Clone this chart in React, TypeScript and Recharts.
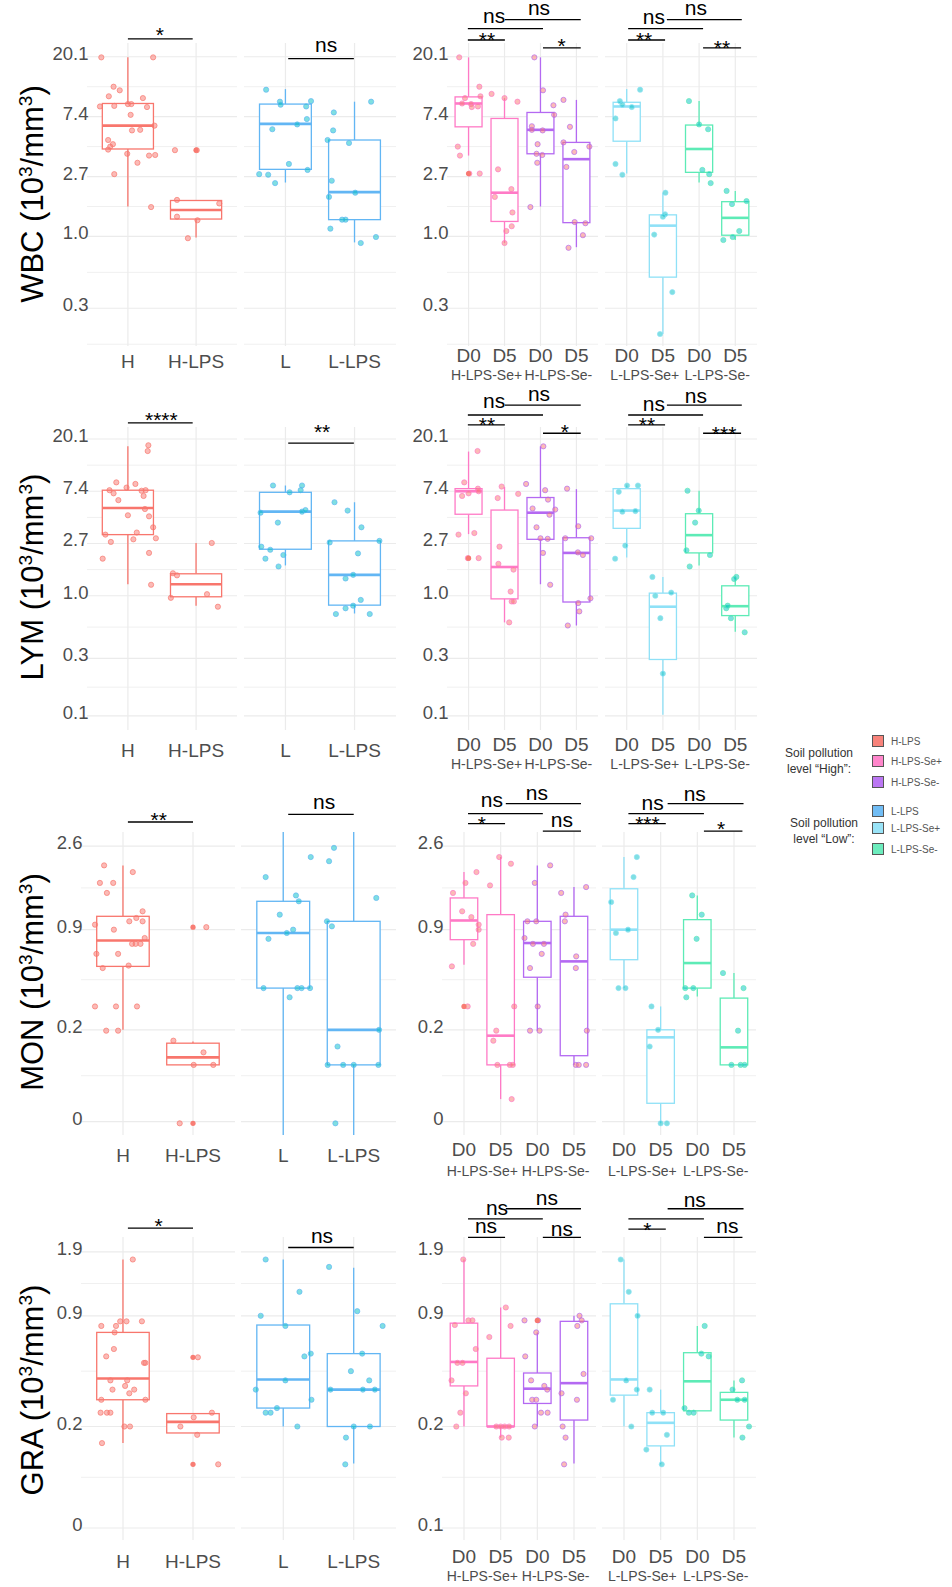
import React from "react";
import {
  ComposedChart,
  XAxis,
  YAxis,
  CartesianGrid,
  Bar,
  Scatter,
  ReferenceLine,
  ReferenceDot,
} from "recharts";

const FONT = '"Liberation Sans", Arial, Helvetica, sans-serif';
const TICK_GREY = "#4D4D4D";

const SOIL_H = "#F8766D";
const SOIL_L = "#00BFC4";
const COL_H_LPS = "#F8766D";
const COL_L_LPS = "#62B6F4";
const COL_H_SEP = "#FF7AC6";
const COL_H_SEM = "#B469F2";
const COL_L_SEP = "#8FE1F7";
const COL_L_SEM = "#5DEBB6";

const CATS_H = ["H", "H-LPS"];
const CATS_L = ["L", "L-LPS"];
const CATS_DAY = ["D0", "D5", "D0", "D5"];
const GROUPS_H = ["H-LPS-Se+", "H-LPS-Se-"];
const GROUPS_L = ["L-LPS-Se+", "L-LPS-Se-"];

// y is plotted on ln(value) for WBC / LYM and ln(value + 0.1) for MON / GRA,
// every number below is already on that scale.
// box: [lower whisker, q1, median, q3, upper whisker]
// points: [group, jitter, value]   outliers: [group, value]
// brackets: [from, to, y, label x, label y, label]

const WBC_TICKS = [-1.2, 0, 1, 2, 3];
const WBC_LABELS = ["0.3", "1.0", "2.7", "7.4", "20.1"];
const WBC_MINOR = [-1.8, -0.6, 0.5, 1.5, 2.5];
const WBC_DOMAIN = [-1.83, 3.23];

const LYM_TICKS = [-2.3, -1.2, 0, 1, 2, 3];
const LYM_LABELS = ["0.1", "0.3", "1.0", "2.7", "7.4", "20.1"];
const LYM_MINOR = [-1.75, -0.6, 0.5, 1.5, 2.5];
const LYM_DOMAIN = [-2.57, 3.23];

const MON_TICKS = [-2.3, -1.2, 0, 1];
const MON_LABELS = ["0", "0.2", "0.9", "2.6"];
const MON_MINOR = [-1.75, -0.6, 0.5];
const MON_DOMAIN = [-2.46, 1.17];

const GRA_TICKS = [-2.3, -1.2, 0, 0.693];
const GRA_LABELS = ["0", "0.2", "0.9", "1.9"];
const GRA_LABELS_SE = ["0.1", "0.2", "0.9", "1.9"];
const GRA_MINOR = [-1.75, -0.6, 0.35];
const GRA_DOMAIN = [-2.43, 0.854];

// ---------- WBC ----------
const WBC_BOX_H = [[0.5, 1.46, 1.85, 2.22, 2.99], [-0.02, 0.29, 0.44, 0.6, 0.6]];
const WBC_PTS_H = [
  [1, -0.39, 2.99], [1, 0.37, 2.99], [1, -0.21, 2.5], [1, -0.12, 2.44], [1, -0.28, 2.34], [1, 0.22, 2.31],
  [1, -0.41, 2.17], [1, -0.2, 2.18], [1, 0.0, 2.21], [1, 0.05, 2.21], [1, 0.28, 2.16], [1, 0.04, 2.03],
  [1, 0.39, 1.85], [1, 0.06, 1.77], [1, 0.18, 1.78], [1, -0.29, 1.61], [1, -0.22, 1.54], [1, -0.26, 1.5],
  [1, -0.29, 1.45], [1, -0.01, 1.38], [1, 0.31, 1.35], [1, 0.4, 1.36], [1, 0.14, 1.23], [1, -0.2, 1.04],
  [1, 0.34, 0.49],
  [2, -0.31, 1.44], [2, 0.01, 1.44], [2, -0.28, 0.61], [2, 0.34, 0.55], [2, -0.28, 0.33], [2, 0.02, 0.27],
  [2, -0.12, -0.03],
];
const WBC_OUT_H = [[2, 1.44]];
const WBC_BRK_H = [[1.0, 1.95, 3.3, 1.47, 3.25, "*"]];

const WBC_BOX_L = [[0.9, 1.12, 1.88, 2.21, 2.46], [-0.1, 0.28, 0.74, 1.61, 2.25]];
const WBC_PTS_L = [
  [1, -0.28, 2.45], [1, -0.08, 2.25], [1, -0.07, 2.2], [1, 0.37, 2.26], [1, 0.3, 2.17], [1, 0.31, 1.96],
  [1, 0.17, 1.87], [1, -0.19, 1.79], [1, 0.05, 1.21], [1, 0.32, 1.11], [1, -0.38, 1.04], [1, -0.25, 1.03],
  [1, -0.15, 0.89],
  [2, 0.24, 2.25], [2, -0.3, 2.07], [2, -0.31, 1.77], [2, -0.39, 1.61], [2, -0.08, 1.56], [2, -0.33, 0.93],
  [2, 0.01, 0.73], [2, -0.37, 0.66], [2, -0.18, 0.28], [2, -0.13, 0.28], [2, -0.35, 0.13], [2, 0.31, -0.01],
  [2, 0.09, -0.11],
];
const WBC_BRK_L = [[1.04, 1.99, 2.97, 1.59, 3.08, "ns"]];

const WBC_BOX_HSE = [
  [1.35, 1.83, 2.22, 2.33, 2.99], [-0.11, 0.25, 0.73, 1.97, 2.31],
  [0.5, 1.38, 1.78, 2.07, 2.99], [-0.18, 0.23, 1.29, 1.57, 2.28],
];
const WBC_PTS_HSE = [
  [1, -0.26, 2.99], [1, 0.3, 2.5], [1, -0.1, 2.31], [1, 0.33, 2.34], [1, -0.18, 2.22], [1, 0.07, 2.21],
  [1, 0.09, 2.16], [1, 0.26, 2.17], [1, -0.3, 1.5], [1, -0.24, 1.35], [1, 0.31, 1.05], [1, 0.02, 1.05],
  [2, -0.36, 2.38], [2, 0.0, 2.31], [2, 0.36, 2.25], [2, -0.18, 1.12], [2, -0.27, 0.66], [2, 0.19, 0.79],
  [2, 0.22, 0.4], [2, 0.2, 0.17], [2, 0.05, 0.09], [2, 0.0, -0.11],
  [3, -0.17, 2.99], [3, 0.07, 2.44], [3, 0.36, 2.19], [3, 0.38, 2.03], [3, -0.24, 1.84], [3, -0.24, 1.78],
  [3, 0.06, 1.77], [3, -0.08, 1.54], [3, -0.11, 1.38], [3, 0.05, 1.36], [3, -0.09, 1.23], [3, -0.28, 0.49],
  [4, -0.36, 2.28], [4, -0.18, 1.83], [4, -0.36, 1.57], [4, 0.36, 1.5], [4, -0.06, 1.41], [4, -0.28, 1.16],
  [4, -0.05, 0.24], [4, 0.25, 0.22], [4, 0.18, 0.02], [4, -0.22, -0.19],
];
const WBC_OUT_HSE = [[1, 1.05]];
const WBC_BRK_HSE = [
  [0.98, 3.07, 3.47, 1.71, 3.57, "ns"], [2.01, 4.12, 3.62, 2.96, 3.7, "ns"],
  [0.98, 2.01, 3.28, 1.51, 3.17, "**"], [3.07, 4.12, 3.15, 3.59, 3.07, "*"],
];

const WBC_BOX_LSE = [
  [1.05, 1.59, 2.17, 2.24, 2.46], [-1.63, -0.68, 0.18, 0.36, 0.73],
  [0.9, 1.07, 1.46, 1.86, 2.26], [-0.06, 0.02, 0.31, 0.58, 0.76],
];
const WBC_PTS_LSE = [
  [1, 0.37, 2.45], [1, -0.19, 2.26], [1, -0.12, 2.2], [1, 0.14, 2.16], [1, -0.31, 1.97], [1, -0.31, 1.21],
  [1, -0.12, 1.03],
  [2, 0.07, 0.73], [2, 0.06, 0.37], [2, 0.0, 0.33], [2, -0.24, 0.03], [2, 0.26, -0.93], [2, -0.08, -1.63],
  [3, -0.28, 2.26], [3, 0.0, 1.87], [3, 0.25, 1.79], [3, 0.09, 1.11], [3, 0.28, 1.04], [3, 0.32, 0.89],
  [4, -0.24, 0.76], [4, 0.31, 0.59], [4, -0.09, 0.54], [4, 0.11, 0.09], [4, -0.07, -0.01], [4, -0.33, -0.06],
];
const WBC_BRK_LSE = [
  [1.04, 3.11, 3.47, 1.75, 3.55, "ns"], [2.11, 4.18, 3.62, 2.91, 3.7, "ns"],
  [1.04, 2.06, 3.28, 1.48, 3.17, "**"], [3.11, 4.16, 3.15, 3.63, 3.03, "**"],
];

// ---------- LYM ----------
const LYM_BOX_H = [[0.22, 1.17, 1.68, 2.02, 2.86], [-0.19, -0.02, 0.22, 0.42, 1.01]];
const LYM_PTS_H = [
  [1, 0.3, 2.88], [1, 0.29, 2.77], [1, -0.17, 2.17], [1, 0.11, 2.14], [1, -0.02, 2.07], [1, -0.27, 2.02],
  [1, -0.21, 1.96], [1, 0.26, 2.02], [1, 0.2, 2.01], [1, 0.23, 1.91], [1, -0.14, 1.83], [1, 0.25, 1.66],
  [1, 0.31, 1.52], [1, 0.0, 1.54], [1, 0.37, 1.31], [1, -0.33, 1.17], [1, 0.13, 1.21], [1, -0.25, 1.03],
  [1, 0.08, 1.08], [1, 0.41, 1.1], [1, 0.31, 0.82], [1, -0.37, 0.71], [1, 0.34, 0.21],
  [2, 0.23, 1.01], [2, -0.34, 0.43], [2, -0.28, 0.39], [2, 0.16, 0.03], [2, -0.37, -0.04], [2, 0.32, -0.21],
];
const LYM_BRK_H = [[1.0, 1.95, 3.31, 1.49, 3.23, "****"]];

const LYM_BOX_L = [[0.58, 0.89, 1.61, 1.98, 2.11], [-0.34, -0.18, 0.4, 1.05, 1.79]];
const LYM_PTS_L = [
  [1, -0.18, 2.11], [1, 0.24, 2.11], [1, 0.06, 1.98], [1, 0.22, 2.02], [1, -0.36, 1.59], [1, 0.24, 1.61],
  [1, 0.29, 1.64], [1, -0.11, 1.4], [1, -0.35, 0.94], [1, -0.22, 0.88], [1, -0.03, 0.78], [1, -0.29, 0.71],
  [1, -0.1, 0.56],
  [2, -0.29, 1.79], [2, -0.1, 1.63], [2, 0.1, 1.31], [2, -0.36, 1.02], [2, 0.36, 1.05], [2, 0.05, 0.81],
  [2, -0.02, 0.4], [2, -0.13, 0.33], [2, 0.09, -0.08], [2, -0.13, -0.24], [2, -0.02, -0.19], [2, -0.27, -0.35],
  [2, 0.22, -0.35],
];
const LYM_BRK_L = [[1.04, 1.99, 2.92, 1.53, 3.0, "**"]];

const LYM_BOX_HSE = [
  [1.18, 1.56, 2.0, 2.05, 2.76], [-0.51, -0.06, 0.55, 1.64, 2.08],
  [0.22, 1.08, 1.59, 1.88, 2.86], [-0.57, -0.12, 0.82, 1.11, 2.04],
];
const LYM_PTS_HSE = [
  [1, 0.25, 2.77], [1, -0.12, 2.17], [1, -0.18, 1.91], [1, 0.0, 1.96], [1, 0.26, 2.05], [1, 0.28, 2.0],
  [1, -0.28, 1.17], [1, 0.16, 1.2], [1, 0.28, 0.72], [1, -0.02, 0.72],
  [2, -0.08, 2.09], [2, -0.19, 1.87], [2, 0.38, 1.95], [2, -0.14, 0.94], [2, -0.17, 0.61], [2, 0.25, 0.5],
  [2, 0.17, 0.08], [2, 0.2, -0.11], [2, 0.26, -0.11], [2, 0.13, -0.51],
  [3, 0.08, 2.86], [3, -0.4, 2.14], [3, 0.13, 2.02], [3, 0.21, 1.84], [3, -0.22, 1.67], [3, 0.41, 1.65],
  [3, 0.25, 1.55], [3, -0.11, 1.31], [3, 0.0, 1.1], [3, 0.2, 1.09], [3, 0.07, 0.82], [3, 0.27, 0.21],
  [4, -0.26, 2.05], [4, 0.05, 1.33], [4, 0.41, 1.1], [4, -0.31, 1.1], [4, 0.04, 0.83], [4, 0.18, 0.78],
  [4, 0.39, -0.05], [4, 0.05, -0.14], [4, 0.08, -0.3], [4, -0.24, -0.57],
];
const LYM_OUT_HSE = [[1, 0.72]];
const LYM_BRK_HSE = [
  [0.98, 3.07, 3.46, 1.71, 3.59, "ns"], [2.01, 4.12, 3.65, 2.96, 3.73, "ns"],
  [0.98, 2.01, 3.27, 1.51, 3.13, "**"], [3.07, 4.12, 3.11, 3.68, 3.0, "*"],
];

const LYM_BOX_LSE = [
  [0.73, 1.29, 1.63, 2.05, 2.11], [-2.28, -1.22, -0.21, 0.05, 0.36],
  [0.58, 0.82, 1.16, 1.57, 2.01], [-0.69, -0.38, -0.2, 0.19, 0.38],
];
const LYM_PTS_LSE = [
  [1, 0.01, 2.11], [1, 0.31, 2.11], [1, -0.22, 1.99], [1, -0.12, 1.61], [1, 0.24, 1.62], [1, -0.04, 0.96],
  [1, -0.32, 0.71],
  [2, -0.29, 0.36], [2, -0.21, 0.0], [2, 0.23, 0.06], [2, -0.07, -0.43], [2, 0.0, -1.49],
  [3, -0.32, 2.01], [3, -0.01, 1.63], [3, -0.11, 1.4], [3, -0.35, 0.87], [3, 0.3, 0.78], [3, -0.26, 0.56],
  [4, 0.03, 0.36], [4, -0.03, 0.32], [4, -0.25, -0.24], [4, -0.21, -0.19], [4, -0.12, -0.43], [4, 0.26, -0.7],
];
const LYM_BRK_LSE = [
  [1.04, 3.11, 3.46, 1.75, 3.54, "ns"], [2.11, 4.18, 3.65, 2.91, 3.69, "ns"],
  [1.04, 2.06, 3.27, 1.56, 3.13, "**"], [3.11, 4.16, 3.11, 3.69, 2.96, "***"],
];

// ---------- MON ----------
const MON_BOX_H = [[-1.2, -0.44, -0.13, 0.16, 0.77], [-1.62, -1.62, -1.53, -1.36, -1.34]];
const MON_PTS_H = [
  [1, -0.27, 0.77], [1, 0.14, 0.69], [1, -0.33, 0.56], [1, -0.14, 0.56], [1, -0.23, 0.44], [1, 0.28, 0.22],
  [1, 0.19, 0.14], [1, 0.09, 0.1], [1, 0.28, 0.1], [1, -0.4, 0.06], [1, -0.13, 0.0], [1, 0.31, -0.1],
  [1, 0.13, -0.17], [1, 0.18, -0.17], [1, 0.25, -0.17], [1, -0.38, -0.29], [1, -0.07, -0.29], [1, 0.08, -0.43],
  [1, -0.29, -0.46], [1, -0.4, -0.92], [1, -0.1, -0.92], [1, 0.2, -0.92], [1, -0.24, -1.21], [1, -0.07, -1.21],
  [2, -0.28, -1.33], [2, 0.15, -1.47], [2, 0.01, -1.62], [2, 0.29, -1.62], [2, -0.19, -2.32], [2, 0.19, 0.03],
];
const MON_OUT_H = [[2, 0.03], [2, -2.32]];
const MON_BRK_H = [[1.07, 2.0, 1.29, 1.51, 1.23, "**"]];

const MON_BOX_L = [[-2.46, -0.7, -0.04, 0.34, 1.17], [-2.46, -1.62, -1.2, 0.1, 1.17]];
const MON_PTS_L = [
  [1, -0.25, 0.63], [1, 0.18, 0.41], [1, 0.22, 0.34], [1, -0.05, 0.18], [1, -0.21, -0.11], [1, 0.14, 0.0],
  [1, 0.05, -0.04], [1, -0.28, -0.7], [1, 0.09, -0.81], [1, 0.2, -0.7], [1, 0.26, -0.7], [1, 0.38, -0.7],
  [1, 0.39, 0.87],
  [2, -0.28, 0.98], [2, -0.35, 0.82], [2, 0.32, 0.38], [2, -0.38, 0.1], [2, -0.31, 0.04], [2, 0.36, -1.2],
  [2, -0.23, -1.4], [2, -0.37, -1.62], [2, -0.15, -1.62], [2, 0.0, -1.62], [2, 0.35, -1.62], [2, -0.26, -2.32],
];
const MON_BRK_L = [[1.07, 2.0, 1.38, 1.58, 1.44, "ns"]];

const MON_BOX_HSE = [
  [-0.42, -0.12, 0.11, 0.38, 0.69], [-2.03, -1.62, -1.27, 0.18, 0.87],
  [-1.21, -0.57, -0.16, 0.1, 0.77], [-1.62, -1.51, -0.38, 0.16, 0.51],
];
const MON_PTS_HSE = [
  [1, 0.34, 0.69], [1, 0.04, 0.56], [1, -0.3, 0.44], [1, -0.05, 0.22], [1, 0.2, 0.15], [1, 0.4, 0.06],
  [1, 0.4, 0.0], [1, 0.25, -0.17], [1, -0.33, -0.44], [1, 0.1, -0.92],
  [2, -0.04, 0.87], [2, 0.28, 0.79], [2, -0.29, 0.53], [2, 0.37, -0.92], [2, -0.12, -1.21], [2, -0.2, -1.33],
  [2, -0.09, -1.62], [2, 0.25, -1.62], [2, 0.33, -1.62], [2, 0.3, -2.03],
  [3, 0.35, 0.77], [3, -0.07, 0.56], [3, -0.27, 0.1], [3, -0.03, 0.1], [3, -0.35, -0.1], [3, -0.12, -0.17],
  [3, 0.18, -0.17], [3, 0.12, -0.29], [3, -0.2, -0.46], [3, 0.01, -0.92], [3, -0.2, -1.21], [3, 0.06, -1.21],
  [4, 0.33, 0.51], [4, -0.35, 0.44], [4, -0.23, 0.18], [4, -0.25, 0.1], [4, 0.06, -0.32], [4, 0.05, -0.46],
  [4, 0.35, -1.21], [4, 0.05, -1.62], [4, 0.13, -1.62], [4, 0.33, -1.62],
];
const MON_OUT_HSE = [[1, -0.92]];
const MON_BRK_HSE = [
  [1.11, 3.15, 1.39, 1.76, 1.47, "ns"], [2.14, 4.19, 1.51, 2.99, 1.55, "ns"],
  [1.11, 2.12, 1.27, 1.49, 1.18, "*"], [3.15, 4.19, 1.18, 3.67, 1.23, "ns"],
];

const MON_BOX_LSE = [
  [-0.7, -0.36, 0.0, 0.49, 0.87], [-2.32, -2.08, -1.29, -1.2, -0.92],
  [-0.8, -0.7, -0.4, 0.12, 0.41], [-1.62, -1.62, -1.41, -0.82, -0.52],
];
const MON_PTS_LSE = [
  [1, 0.35, 0.87], [1, 0.26, 0.63], [1, -0.35, 0.33], [1, -0.22, -0.04], [1, 0.11, 0.0], [1, -0.15, -0.7],
  [1, 0.04, -0.7],
  [2, -0.25, -0.92], [2, -0.07, -1.2], [2, -0.3, -1.4], [2, 0.17, -2.32], [2, 0.0, -2.32],
  [3, -0.14, 0.41], [3, 0.12, 0.18], [3, -0.02, -0.11], [3, -0.33, -0.7], [3, -0.11, -0.7], [3, -0.3, -0.81],
  [4, -0.3, -0.52], [4, 0.26, -0.7], [4, 0.11, -1.21], [4, -0.07, -1.62], [4, 0.18, -1.62], [4, 0.29, -1.62],
];
const MON_BRK_LSE = [
  [1.12, 3.18, 1.39, 1.78, 1.43, "ns"], [2.19, 4.26, 1.51, 2.93, 1.54, "ns"],
  [1.12, 2.14, 1.27, 1.64, 1.18, "***"], [3.18, 4.23, 1.18, 3.65, 1.12, "*"],
];

// ---------- GRA ----------
const GRA_BOX_H = [[-1.38, -0.91, -0.68, -0.18, 0.61], [-1.27, -1.27, -1.15, -1.06, -1.06]];
const GRA_PTS_H = [
  [1, 0.14, 0.61], [1, -0.31, -0.11], [1, -0.1, -0.11], [1, -0.04, -0.06], [1, 0.05, -0.06], [1, 0.27, -0.06],
  [1, -0.12, -0.18], [1, -0.13, -0.36], [1, -0.24, -0.44], [1, 0.3, -0.51], [1, 0.32, -0.51], [1, -0.18, -0.7],
  [1, 0.06, -0.7], [1, -0.15, -0.8], [1, 0.03, -0.76], [1, 0.16, -0.8], [1, 0.09, -0.84], [1, -0.31, -0.91],
  [1, 0.32, -0.91], [1, -0.32, -1.05], [1, -0.23, -1.05], [1, -0.18, -1.05], [1, 0.02, -1.2], [1, 0.1, -1.2],
  [1, -0.3, -1.38],
  [2, 0.07, -0.45], [2, 0.27, -1.05], [2, 0.01, -1.1], [2, -0.18, -1.2], [2, 0.06, -1.29], [2, 0.36, -1.61],
];
const GRA_OUT_H = [[2, -0.45], [2, -1.61]];
const GRA_BRK_H = [[1.07, 2.0, 0.95, 1.51, 0.9, "*"]];

const GRA_BOX_L = [[-1.2, -1.0, -0.69, -0.1, 0.61], [-1.6, -1.2, -0.8, -0.41, 0.52]];
const GRA_PTS_L = [
  [1, -0.25, 0.61], [1, 0.23, 0.26], [1, -0.32, 0.0], [1, 0.03, -0.11], [1, 0.3, -0.44], [1, 0.39, -0.41],
  [1, 0.03, -0.7], [1, -0.39, -0.8], [1, 0.4, -0.91], [1, -0.09, -1.0], [1, -0.25, -1.05], [1, -0.18, -1.05],
  [1, 0.2, -1.2],
  [2, -0.35, 0.53], [2, 0.05, 0.05], [2, 0.41, -0.11], [2, 0.12, -0.41], [2, -0.04, -0.6], [2, 0.22, -0.7],
  [2, -0.33, -0.8], [2, 0.13, -0.8], [2, 0.3, -0.8], [2, 0.0, -1.2], [2, 0.23, -1.2], [2, -0.11, -1.32],
  [2, -0.12, -1.61],
];
const GRA_BRK_L = [[1.07, 2.0, 0.74, 1.55, 0.79, "ns"]];

const GRA_BOX_HSE = [
  [-1.2, -0.76, -0.5, -0.08, 0.61], [-1.32, -1.2, -1.2, -0.46, 0.09],
  [-1.2, -0.95, -0.79, -0.62, -0.18], [-1.6, -1.13, -0.73, -0.06, 0.0],
];
const GRA_PTS_HSE = [
  [1, -0.02, 0.61], [1, -0.25, -0.1], [1, 0.12, -0.05], [1, 0.23, -0.05], [1, 0.32, -0.36], [1, -0.18, -0.51],
  [1, -0.04, -0.51], [1, -0.34, -0.7], [1, 0.05, -0.84], [1, -0.1, -1.05], [1, -0.21, -1.2],
  [2, 0.14, 0.09], [2, 0.27, -0.11], [2, -0.31, -0.23], [2, -0.12, -1.2], [2, 0.0, -1.2], [2, 0.11, -1.2],
  [2, 0.23, -1.2], [2, 0.03, -1.32], [2, 0.22, -1.32],
  [3, -0.35, -0.05], [3, 0.02, -0.05], [3, -0.03, -0.18], [3, -0.33, -0.44], [3, -0.17, -0.7], [3, 0.19, -0.76],
  [3, 0.27, -0.8], [3, -0.14, -0.91], [3, -0.03, -0.91], [3, 0.1, -1.05], [3, 0.28, -1.05], [3, -0.07, -1.2],
  [4, 0.15, 0.0], [4, 0.21, -0.05], [4, 0.09, -0.11], [4, 0.26, -0.63], [4, -0.34, -0.84], [4, 0.08, -0.91],
  [4, -0.31, -1.2], [4, -0.23, -1.32], [4, -0.27, -1.61],
];
const GRA_OUT_HSE = [[3, -0.05]];
const GRA_BRK_HSE = [
  [1.11, 3.15, 1.05, 1.9, 1.09, "ns"], [2.14, 4.19, 1.16, 3.26, 1.2, "ns"],
  [1.11, 2.12, 0.85, 1.6, 0.9, "ns"], [3.15, 4.19, 0.85, 3.67, 0.86, "ns"],
];

const GRA_BOX_LSE = [
  [-1.2, -0.86, -0.69, 0.13, 0.61], [-1.61, -1.41, -1.16, -1.05, -0.8],
  [-1.03, -1.03, -0.71, -0.4, -0.11], [-1.32, -1.13, -0.91, -0.83, -0.7],
];
const GRA_PTS_LSE = [
  [1, -0.09, 0.61], [1, 0.13, 0.26], [1, 0.37, 0.0], [1, 0.06, -0.7], [1, 0.35, -0.8], [1, -0.3, -0.91],
  [1, 0.2, -1.2],
  [2, -0.3, -0.8], [2, -0.23, -1.05], [2, 0.07, -1.05], [2, 0.17, -1.29], [2, -0.39, -1.45], [2, 0.03, -1.61],
  [3, 0.2, -0.11], [3, 0.11, -0.41], [3, 0.31, -0.44], [3, -0.35, -1.0], [3, -0.23, -1.05], [3, -0.1, -1.05],
  [4, 0.22, -0.7], [4, -0.04, -0.8], [4, 0.09, -0.91], [4, 0.29, -0.91], [4, 0.41, -1.2], [4, 0.23, -1.32],
];
const GRA_BRK_LSE = [
  [1.12, 3.18, 1.05, 0, 0, ""], [2.19, 4.26, 1.16, 2.93, 1.18, "ns"],
  [1.12, 2.14, 0.94, 1.64, 0.85, "*"], [3.18, 4.23, 0.85, 3.82, 0.9, "ns"],
];

const LEGEND_HIGH = ["H-LPS", "H-LPS-Se+", "H-LPS-Se-"];
const LEGEND_LOW = ["L-LPS", "L-LPS-Se+", "L-LPS-Se-"];

// ---------- layout ----------
const PANEL_H = 303;
const ML = 60;
const MR = 8;
const MT = 50;
const MB = 48;
const CAT_AXIS_H = 20;

function BoxShape(props: any) {
  const { x, y, width, height, payload } = props;
  const { lo, q1, med, q3, hi, color, bw } = payload;
  const top = Math.min(y, y + height);
  const span = Math.abs(height);
  const py = (v: number) => top + (hi === lo ? 0 : (span * (hi - v)) / (hi - lo));
  const cx = x + width / 2;
  const left = cx - bw / 2;
  return (
    <g>
      <line x1={cx} x2={cx} y1={py(hi)} y2={py(q3)} stroke={color} strokeWidth={1.3} />
      <line x1={cx} x2={cx} y1={py(q1)} y2={py(lo)} stroke={color} strokeWidth={1.3} />
      <rect x={left} y={py(q3)} width={bw} height={Math.max(py(q1) - py(q3), 0.5)} fill="#fff" stroke={color} strokeWidth={1.3} />
      <line x1={left} x2={left + bw} y1={py(med)} y2={py(med)} stroke={color} strokeWidth={2.6} />
    </g>
  );
}

function Panel(s: any) {
  const n = s.cats.length;
  const positions = s.cats.map((_: string, i: number) => i + 1);
  const boxW = (0.75 * s.w) / (n + 0.2);
  const table = s.boxes.map((b: number[], i: number) => ({
    x: i + 1, range: [b[0], b[4]], lo: b[0], q1: b[1], med: b[2], q3: b[3], hi: b[4], color: s.colors[i], bw: boxW,
  }));
  const dots = s.pts.map((p: number[]) => ({ x: p[0] + p[1], y: p[2], color: s.colors[p[0] - 1] }));
  const outs = (s.outl || []).map((o: number[]) => ({ x: o[0], y: o[1] }));
  const hasY = !!s.yLabels;
  const hasGroups = !!s.groups;
  const xDomain = [0.4, n + 0.6];

  return (
    <div style={{ position: "absolute", left: s.x - ML, top: s.top - MT }}>
      <ComposedChart
        width={s.w + ML + MR}
        height={PANEL_H + MT + MB}
        data={table}
        margin={{ top: MT, right: MR, bottom: 0, left: hasY ? 0 : ML }}
      >
        <CartesianGrid horizontalValues={s.minor} vertical={false} stroke="#F0F0F0" strokeWidth={1} />
        <CartesianGrid horizontalValues={s.ticks} verticalValues={positions} stroke="#EBEBEB" strokeWidth={1.2} />
        <XAxis
          xAxisId={0}
          type="number"
          dataKey="x"
          domain={xDomain}
          ticks={positions}
          tickCount={n}
          interval={0}
          allowDataOverflow
          axisLine={false}
          tickLine={false}
          tickSize={0}
          tickMargin={0}
          height={hasGroups ? CAT_AXIS_H : MB}
          tick={(t: any) => (
            <text x={t.x} y={t.y + s.catDy} textAnchor="middle" dominantBaseline="central" fontSize={19} fontFamily={FONT} fill={TICK_GREY}>
              {s.cats[Math.round(t.payload.value) - 1]}
            </text>
          )}
        />
        {hasGroups && (
          <XAxis
            xAxisId="grp"
            type="number"
            dataKey="x"
            domain={xDomain}
            ticks={[1.5, 3.5]}
            interval={0}
            allowDataOverflow
            axisLine={false}
            tickLine={false}
            tickSize={0}
            tickMargin={0}
            height={MB - CAT_AXIS_H}
            tick={(t: any) => (
              <text x={t.x} y={t.y + s.grpDy - CAT_AXIS_H} textAnchor="middle" dominantBaseline="central" fontSize={14} fontFamily={FONT} fill={TICK_GREY}>
                {s.groups[Math.round((t.payload.value - 1.5) / 2)]}
              </text>
            )}
          />
        )}
        <YAxis
          type="number"
          domain={s.domain}
          ticks={s.ticks}
          interval={0}
          allowDataOverflow
          width={ML}
          hide={!hasY}
          axisLine={false}
          tickLine={false}
          tickSize={0}
          tickMargin={0}
          tick={(t: any) => {
            const i = s.ticks.findIndex((v: number) => Math.abs(v - t.payload.value) < 1e-6);
            return (
              <text x={t.x + 1.5} y={t.y - 3.5} textAnchor="end" dominantBaseline="central" fontSize={18.5} fontFamily={FONT} fill={TICK_GREY}>
                {i >= 0 && hasY ? s.yLabels[i] : ""}
              </text>
            );
          }}
        />
        <Bar dataKey="range" barSize={boxW} isAnimationActive={false} shape={BoxShape} />
        <Scatter
          data={dots}
          dataKey="y"
          isAnimationActive={false}
          shape={(d: any) => (
            <circle cx={d.cx} cy={d.cy} r={2.6} fill={s.soil} fillOpacity={0.5} stroke={d.payload.color} strokeOpacity={0.85} strokeWidth={0.8} />
          )}
        />
        <Scatter
          data={outs}
          dataKey="y"
          isAnimationActive={false}
          shape={(d: any) => <circle cx={d.cx} cy={d.cy} r={2.6} fill={s.soil} fillOpacity={0.95} />}
        />
        {s.brackets.map((b: any[], i: number) => (
          <ReferenceLine
            key={"b" + i}
            segment={[{ x: b[0], y: b[2] }, { x: b[1], y: b[2] }]}
            stroke="#000"
            strokeWidth={1.3}
            ifOverflow="visible"
          />
        ))}
        {s.brackets
          .filter((b: any[]) => b[5])
          .map((b: any[], i: number) => (
            <ReferenceDot
              key={"t" + i}
              x={b[3]}
              y={b[4]}
              r={0}
              ifOverflow="visible"
              shape={(d: any) => (
                <text x={d.cx} y={d.cy} textAnchor="middle" fontSize={21} fontFamily={FONT} fill="#000">
                  {b[5]}
                </text>
              )}
            />
          ))}
      </ComposedChart>
    </div>
  );
}

function Title({ name, cy }: { name: string; cy: number }) {
  return (
    <div
      style={{
        position: "absolute",
        left: 32,
        top: cy,
        transform: "translate(-50%, -50%) rotate(-90deg)",
        whiteSpace: "nowrap",
        fontSize: 31,
        fontFamily: FONT,
        color: "#000",
        lineHeight: 1,
      }}
    >
      {name} (10<span style={{ fontSize: "0.62em", verticalAlign: "0.55em" }}>3</span>/mm
      <span style={{ fontSize: "0.62em", verticalAlign: "0.55em" }}>3</span>)
    </div>
  );
}

function LegendBlock({ cx, y, level }: { cx: number; y: number; level: string }) {
  return (
    <div style={{ position: "absolute", left: cx - 50, top: y, width: 100, textAlign: "center", fontSize: 12, lineHeight: "16px", color: "#333", fontFamily: FONT }}>
      Soil pollution
      <br />
      level “{level}”:
    </div>
  );
}

function LegendItem({ y, color, label }: { y: number; color: string; label: string }) {
  return (
    <div style={{ position: "absolute", left: 872, top: y - 7, height: 14, display: "flex", alignItems: "center" }}>
      <div style={{ width: 12, height: 12, background: color, border: "1px solid #444", boxSizing: "border-box", opacity: 0.9 }} />
      <span style={{ marginLeft: 7, fontSize: 10, color: "#555", fontFamily: FONT }}>{label}</span>
    </div>
  );
}

const ROW_TOPS = [43, 427, 832, 1237];
const COLS_WIDE = [[87, 150], [244, 152], [447, 151], [605, 152]];
const COLS_NARROW = [[81, 154], [241, 155], [442, 154], [602, 154]];

export default function App() {
  const rows = [
    {
      name: "WBC", titleY: 194, cols: COLS_WIDE, domain: WBC_DOMAIN, ticks: WBC_TICKS, minor: WBC_MINOR,
      labels: [WBC_LABELS, WBC_LABELS], catDy: 15, dayDy: 9, grpDy: 29,
      panels: [
        [WBC_BOX_H, WBC_PTS_H, WBC_OUT_H, WBC_BRK_H],
        [WBC_BOX_L, WBC_PTS_L, [], WBC_BRK_L],
        [WBC_BOX_HSE, WBC_PTS_HSE, WBC_OUT_HSE, WBC_BRK_HSE],
        [WBC_BOX_LSE, WBC_PTS_LSE, [], WBC_BRK_LSE],
      ],
    },
    {
      name: "LYM", titleY: 577, cols: COLS_WIDE, domain: LYM_DOMAIN, ticks: LYM_TICKS, minor: LYM_MINOR,
      labels: [LYM_LABELS, LYM_LABELS], catDy: 20, dayDy: 14.5, grpDy: 34,
      panels: [
        [LYM_BOX_H, LYM_PTS_H, [], LYM_BRK_H],
        [LYM_BOX_L, LYM_PTS_L, [], LYM_BRK_L],
        [LYM_BOX_HSE, LYM_PTS_HSE, LYM_OUT_HSE, LYM_BRK_HSE],
        [LYM_BOX_LSE, LYM_PTS_LSE, [], LYM_BRK_LSE],
      ],
    },
    {
      name: "MON", titleY: 982, cols: COLS_NARROW, domain: MON_DOMAIN, ticks: MON_TICKS, minor: MON_MINOR,
      labels: [MON_LABELS, MON_LABELS], catDy: 20, dayDy: 14, grpDy: 36,
      panels: [
        [MON_BOX_H, MON_PTS_H, MON_OUT_H, MON_BRK_H],
        [MON_BOX_L, MON_PTS_L, [], MON_BRK_L],
        [MON_BOX_HSE, MON_PTS_HSE, MON_OUT_HSE, MON_BRK_HSE],
        [MON_BOX_LSE, MON_PTS_LSE, [], MON_BRK_LSE],
      ],
    },
    {
      name: "GRA", titleY: 1390, cols: COLS_NARROW, domain: GRA_DOMAIN, ticks: GRA_TICKS, minor: GRA_MINOR,
      labels: [GRA_LABELS, GRA_LABELS_SE], catDy: 21, dayDy: 16, grpDy: 36,
      panels: [
        [GRA_BOX_H, GRA_PTS_H, GRA_OUT_H, GRA_BRK_H],
        [GRA_BOX_L, GRA_PTS_L, [], GRA_BRK_L],
        [GRA_BOX_HSE, GRA_PTS_HSE, GRA_OUT_HSE, GRA_BRK_HSE],
        [GRA_BOX_LSE, GRA_PTS_LSE, [], GRA_BRK_LSE],
      ],
    },
  ];

  const panelMeta = [
    { cats: CATS_H, colors: [COL_H_LPS, COL_H_LPS], soil: SOIL_H, groups: undefined, yl: 0 },
    { cats: CATS_L, colors: [COL_L_LPS, COL_L_LPS], soil: SOIL_L, groups: undefined, yl: -1 },
    { cats: CATS_DAY, colors: [COL_H_SEP, COL_H_SEP, COL_H_SEM, COL_H_SEM], soil: SOIL_H, groups: GROUPS_H, yl: 1 },
    { cats: CATS_DAY, colors: [COL_L_SEP, COL_L_SEP, COL_L_SEM, COL_L_SEM], soil: SOIL_L, groups: GROUPS_L, yl: -1 },
  ];

  return (
    <div
      style={{
        position: "absolute",
        left: 0,
        top: 0,
        width: 952,
        height: 1587,
        background: "#fff",
        overflow: "hidden",
        fontFamily: FONT,
      }}
    >
      {rows.map((r, ri) => (
        <React.Fragment key={r.name}>
          <Title name={r.name} cy={r.titleY} />
          {r.panels.map((pd: any[], pi: number) => {
            const m = panelMeta[pi];
            return (
              <Panel
                key={r.name + pi}
                x={r.cols[pi][0]}
                w={r.cols[pi][1]}
                top={ROW_TOPS[ri]}
                cats={m.cats}
                groups={m.groups}
                colors={m.colors}
                soil={m.soil}
                boxes={pd[0]}
                pts={pd[1]}
                outl={pd[2]}
                brackets={pd[3]}
                domain={r.domain}
                ticks={r.ticks}
                minor={r.minor}
                yLabels={m.yl >= 0 ? r.labels[m.yl] : undefined}
                catDy={m.groups ? r.dayDy : r.catDy}
                grpDy={r.grpDy}
              />
            );
          })}
        </React.Fragment>
      ))}

      <LegendBlock cx={819} y={745} level="High" />
      <LegendBlock cx={824} y={815} level="Low" />
      <LegendItem y={741} color={COL_H_LPS} label={LEGEND_HIGH[0]} />
      <LegendItem y={761} color={COL_H_SEP} label={LEGEND_HIGH[1]} />
      <LegendItem y={782} color={COL_H_SEM} label={LEGEND_HIGH[2]} />
      <LegendItem y={811} color={COL_L_LPS} label={LEGEND_LOW[0]} />
      <LegendItem y={828} color={COL_L_SEP} label={LEGEND_LOW[1]} />
      <LegendItem y={849} color={COL_L_SEM} label={LEGEND_LOW[2]} />
    </div>
  );
}
